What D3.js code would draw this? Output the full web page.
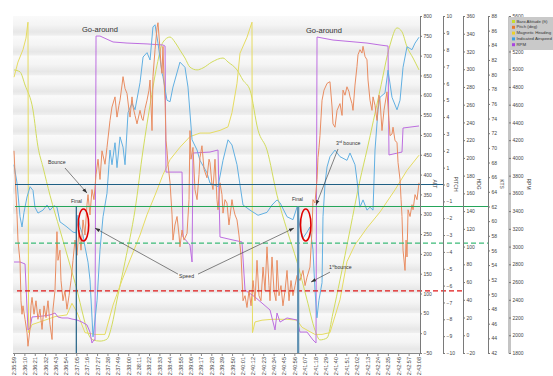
<!DOCTYPE html>
<html><head><meta charset="utf-8">
<script src="https://cdn.jsdelivr.net/npm/d3@7"></script>
<style>
html,body{margin:0;padding:0;background:#fff;}
svg{display:block;font-family:"Liberation Sans",Arial,sans-serif;}
</style></head><body>
<svg id="chart" width="553" height="376"></svg>
<script>
// Flight recording: two approaches with go-arounds, seconds from 2:35:59
const timeLabels = ["2:35:59","2:36:10","2:36:21","2:36:32","2:36:43","2:36:54","2:37:05","2:37:16","2:37:27","2:37:38",
  "2:37:49","2:38:00","2:38:11","2:38:22","2:38:33","2:38:44","2:38:55","2:39:06","2:39:17","2:39:28",
  "2:39:39","2:39:50","2:40:01","2:40:12","2:40:23","2:40:34","2:40:45","2:40:56","2:41:07","2:41:18",
  "2:41:29","2:41:40","2:41:51","2:42:02","2:42:13","2:42:24","2:42:35","2:42:46","2:42:57","2:43:08"];
const labelStepSec = 11;

const altTicks = [-50,0,50,100,150,200,250,300,350,400,450,500,550,600,650,700,750,800];
const pitchTicks = [-10,-9,-8,-7,-6,-5,-4,-3,-2,-1,0,1,2,3,4,5,6,7,8,9,10];
const hdgTicks = [-20,0,20,40,60,80,100,120,140,160,180,200,220,240,260,280,300,320,340,360];
const ktsTicks = [42,44,46,48,50,52,54,56,58,60,62,64,66,68,70,72,74,76,78,80,82,84,86,88];
const rpmTicks = [1800,2000,2200,2400,2600,2800,3000,3200,3400,3600,3800,4000,4200,4400,4600,4800,5000,5200,5600];

// [seconds, feet]
const altitudeFt = [[0,664],[6.4,659],[11.7,626],[20.1,563],[25.4,470],[30.7,419],[38.1,348],[48.7,260],[59.3,172],[66.7,109],[73.1,46],[78.4,0],[83.7,-17],[91.1,-20],[98.5,-15],[103.8,21],[109.1,84],[117.6,180],[128.2,311],[136.7,462],[144.1,575],[151.5,676],[157.8,734],[165.3,747],[170.5,734],[175.8,714],[181.1,694],[186.4,671],[193.9,664],[200.2,669],[209.7,684],[221.4,694],[226.7,684],[236.2,664],[242.6,638],[250,613],[258.5,512],[268,462],[278.6,348],[289.2,260],[299.8,180],[310.4,84],[318.8,8],[324.1,-17],[331.6,-12],[337.9,51],[345.3,134],[355.9,260],[366.5,386],[373.9,462],[387.7,613],[398.3,727],[405.7,770],[411,760],[416.3,722],[422.7,694],[429,664]];

// [seconds, degrees]
const headingDeg = [[0,291],[4.2,308],[9.5,322],[12.7,335],[14.8,353],[15.4,3],[19.1,12],[32.8,17],[43.4,21],[56.1,23],[61.4,36],[66.7,26],[75.2,3],[85.8,1],[96.4,1],[104.9,34],[114.4,62],[122.9,85],[133.5,113],[140.9,136],[149.4,158],[157.8,181],[165.3,198],[175.8,212],[186.4,224],[197,228],[207.6,228],[218.2,231],[226.7,235],[230.9,251],[236.2,284],[239.4,318],[246.8,336],[252.1,353],[252.6,3],[255.3,15],[262.7,17],[273.3,18],[289.2,18],[299.8,17],[305.1,9],[313.5,4],[318.8,1],[326.3,1],[334.7,3],[345.3,40],[352.7,83],[361.2,102],[373.9,121],[387.7,139],[403.6,164],[416.3,186],[429,203]];

// [seconds, knots]
const airspeedKts = [[0,67.7],[3.2,65.2],[6.4,60.6],[8.5,59.2],[10.6,61.2],[13.8,63.3],[17,64.7],[20.1,64.2],[22.2,61.9],[25.4,61.1],[30.7,61.5],[35,62.2],[38.1,61.5],[42.4,62.1],[45.5,61.9],[48.7,59.9],[53,59.5],[56.1,59.2],[62.5,58.5],[65.7,58.4],[67.7,60.8],[69.9,59.2],[73.1,58.1],[75.2,56.5],[78.4,54.4],[80.5,52],[82.6,46.9],[83.7,44.2],[85.8,46.5],[88,49.2],[91.1,56.1],[94.3,60.6],[98.5,63.8],[100.6,67.7],[101.7,69.7],[103.8,67.7],[107,70.7],[109.1,67.3],[112.3,71.5],[115.5,70.1],[117.6,67.7],[120.8,74.8],[125,76.1],[128.2,75.2],[133.5,78.9],[136.7,82.4],[140.9,83],[144.1,82],[147.2,86.5],[149.4,86.8],[152.5,84.3],[156.8,80.2],[157.8,79.7],[162.1,76.5],[165.3,76.3],[168.4,78.3],[175.8,81.7],[181.1,81],[184.3,78.3],[188.6,71.1],[193.9,69.7],[197,68.3],[204.4,66.6],[207.6,65.2],[216.1,64.7],[221.4,68.3],[226.7,71.1],[230.9,70.4],[236.2,67.7],[242.6,62.2],[250,61.5],[258.5,60.8],[268,61.2],[273.3,62.2],[278.6,62.9],[281.8,62.5],[289.2,60.6],[295.5,60.2],[299.8,61.9],[302.9,59.2],[306.1,57.7],[310.4,58.5],[313.5,59.2],[316.7,56.1],[318.8,50.6],[320.9,46.8],[323,49.2],[326.3,51.6],[327.3,60.6],[329.5,65.2],[331.6,67.4],[334.7,68.8],[340,69.7],[345.3,68.8],[352.7,68.3],[355.9,69.3],[361.2,67.7],[363.3,65.6],[366.5,61.9],[369.7,62.9],[373.9,61.5],[377.1,61.9],[380.3,61.5],[382.4,69.7],[385.6,75.2],[387.7,76.9],[393,77.5],[396.2,80.6],[400.4,76.9],[405.7,75.2],[408.9,76.5],[412.1,81],[416.3,83.8],[421.6,83.4],[424.8,84.3],[429,85.1]];

// [seconds, degrees]
const pitchDeg = [[0,2.0],[1.1,0.6],[3.2,-1.8],[4.2,-3.3],[6.4,-4.6],[7.4,-6.9],[8.5,-7.7],[9.5,-7.2],[11.7,-8.0],[13.8,-8.8],[14.8,-9.6],[16.9,-8.6],[18,-7.2],[19.1,-6.7],[21.2,-7.7],[23.3,-6.9],[25.4,-8.0],[27.5,-7.4],[29.7,-8.6],[31.8,-7.2],[33.9,-7.9],[36,-6.9],[38.1,-8.3],[40.3,-9.2],[41.3,-7.4],[43.4,-6.3],[45.5,-2.8],[46.6,-4.5],[48.7,-3.9],[49.8,-5.7],[51.9,-6.9],[54,-6.3],[56.1,-7.4],[58.3,-6.6],[60.4,-5.7],[62.5,-4.5],[64.6,-3.3],[66.7,-4.2],[68.9,-2.7],[71,-3.9],[73.1,-2.1],[75.2,-3.0],[77.3,-1.2],[78.4,-0.6],[80.5,-1.8],[82.6,-0.3],[84.7,-0.9],
 [86.9,0.6],[89,1.5],[91.1,0.3],[93.2,2.0],[96.4,1.2],[98.5,2.2],[101.7,3.8],[103.8,4.6],[107,5.2],[109.1,4.0],[111.2,4.7],[112.3,5.0],[114.4,5.9],[115.5,6.4],[117.6,5.7],[119.7,5.4],[121.8,4.4],[122.9,4.0],[125,5.2],[126.1,4.6],[128.2,4.1],[130.3,3.6],[133.5,4.4],[135.6,3.9],[136.7,3.8],[138.8,4.5],[140.9,5.0],[143,5.6],[144.1,6.2],[146.2,3.2],[147.2,6.4],[149.4,8.0],[151.5,9.3],[152.5,9.6],[154.7,8.0],[155.7,7.1],[156.8,6.6],[157.8,8.2],[158.9,6.2],[160,5.0],
 [161,2.6],[162.1,2.0],[163.1,1.2],[165.3,0.1],[167.4,-1.8],[168.4,-3.3],[170.5,-2.4],[172.7,-1.9],[174.8,-3.0],[175.8,-3.7],[178,-2.7],[180.1,-3.3],[183.3,-2.9],[185.4,-0.9],[186.4,3.2],[187.5,1.5],[189.6,2.2],[191.7,-0.3],[193.9,-0.9],[196,0.6],[197,1.6],[199.1,2.3],[201.3,0.9],[204.4,0.4],[206.6,1.5],[207.6,1.3],[209.7,0.0],[210.8,-0.3],[212.9,1.5],[215,-0.9],[216.1,-1.5],[218.2,0.1],[220.3,-0.6],[221.4,-1.7],[223.5,-0.9],[225.6,-1.1],[227.7,-2.4],[228.8,-1.9],[230.9,-0.9],[232,-1.3],[234.1,-1.8],[236.2,-2.1],[238.3,-3.0],[240.5,-4.2],
 [242.6,-6.9],[244.7,-6.6],[246.8,-7.3],[248.9,-6.3],[251.1,-7.2],[253.2,-5.7],[255.3,-6.9],[257.4,-4.5],[259.5,-6.6],[261.6,-6.9],[263.8,-4.9],[265.9,-6.3],[268,-3.7],[270.1,-6.0],[271.2,-6.9],[273.3,-4.3],[275.4,-6.3],[277.5,-6.9],[278.6,-4.5],[280.7,-6.6],[282.8,-6.0],[284.9,-7.2],[287.1,-6.3],[289.2,-5.1],[291.3,-6.9],[293.4,-5.7],[295.5,-6.6],[297.7,-6.0],[299.8,-5.4],[302.9,-5.7],[306.1,-5.1],[308.3,-6.0],[310.4,-5.5],[313.5,-4.9],[315.7,-2.7],[316.7,-0.9],[318.8,-1.1],[321,0.3],[322,1.6],[323.1,2.2],
 [324.1,2.9],[326.3,5.0],[328.4,5.6],[331.6,6.0],[334.7,6.1],[336.9,4.6],[337.9,3.6],[340,3.4],[342.2,4.4],[345.3,4.8],[347.5,4.1],[348.5,5.6],[350.6,5.3],[352.7,5.8],[354.9,5.5],[355.9,5.2],[358,4.8],[359.1,4.4],[361.2,5.9],[363.3,7.0],[364.4,7.7],[366.5,8.0],[368.6,7.8],[369.7,8.2],[371.8,7.6],[373.9,7.4],[375,6.2],[377.1,5.0],[379.2,4.4],[380.3,5.2],[382.4,4.7],[384.5,3.8],[386.6,5.3],[387.7,5.0],[389.8,3.2],[391.9,4.4],[395.1,5.5],[397.2,3.8],[398.3,2.9],[400.4,3.0],[401.5,3.4],[403.6,2.6],[405.7,2.5],
 [406.8,1.3],[408.9,0.3],[410,-0.9],[411,-1.9],[412.1,-3.9],[414.2,-5.1],[415.3,-3.3],[416.3,-4.3],[417.4,-1.5],[419.5,-1.9],[421.6,-1.2],[422.7,-1.5],[424.8,-0.6],[426.9,-0.9],[429,0.1]];

// [seconds, rpm]
const engineRpm = [[0,2826],[6.4,2826],[11.7,2804],[14.8,2060],[17,2082],[19.1,2206],[30.7,2217],[38.1,2229],[43.4,2251],[46.6,2206],[50.8,2195],[57.2,2195],[61.4,2183],[66.7,2172],[72,2149],[77.3,2116],[80.5,2036],[82.6,1913],[84.7,1947],[85.8,1947],[86.9,5374],[91.1,5374],[104.9,5307],[119.7,5295],[140.9,5285],[157.8,5273],[160,5261],[161,3840],[178,3840],[179,3108],[186.4,3018],[188.6,2826],[189.6,4055],[207.6,4066],[216.1,4089],[218.2,3108],[232,3074],[241.5,3052],[244.7,2510],[255.3,2431],[271.2,2285],[276.5,2060],[278.6,2251],[281.8,2149],[289.2,2195],[299.8,2172],[302.9,2036],[310.4,2036],[316.7,1947],[319.9,1913],[321,5363],[337.9,5329],[373.9,5295],[387.7,5273],[396.2,5261],[397.2,4033],[411,4066],[412.1,4337],[429,4360]];

const legendItems = ["Baro Altitude (ft)","Pitch (deg)","Magnetic Heading","Indicated Airspeed","RPM"];

// Reference levels and event markers
const pitchLevel = 0;
const speedFinal = 62, speedMin = 57;
const headingLevel = 50;
const finalTimes = [66, 301];
const circledTimes = [73.6, 309];

const svg = d3.select("#chart");
const plotL = 13, plotR = 420, plotT = 16, plotB = 353;

const x = d3.scaleLinear().domain([0, 429]).range([14, 419]);
const yAlt = d3.scaleLinear().domain([-50, 800]).range([plotB, plotT]);
const yPitch = d3.scaleLinear().domain([-10, 10]).range([plotB, plotT]);
const yHdg = d3.scaleLinear().domain([-20, 360]).range([plotB, plotT]);
const yKts = d3.scaleLinear().domain([42, 88]).range([plotB, plotT]);
const yRpm = d3.scaleLinear().domain([1800, 5600]).range([plotB, plotT]);

const defs = svg.append("defs");
const grad = defs.append("linearGradient").attr("id", "bandGrad")
  .attr("x1", 0).attr("y1", 0).attr("x2", 0).attr("y2", 1);
[[0, "#fafafa"], [0.45, "#f4f4f4"], [0.8, "#e7e7e7"], [1, "#f0f0f0"]]
  .forEach(([o, c]) => grad.append("stop").attr("offset", o).attr("stop-color", c));
defs.append("clipPath").attr("id", "plotClip").append("rect")
  .attr("x", plotL).attr("y", plotT).attr("width", plotR - plotL).attr("height", plotB - plotT);
const marker = defs.append("marker").attr("id", "arrow").attr("viewBox", "0 0 10 10")
  .attr("refX", 10).attr("refY", 5).attr("markerWidth", 5).attr("markerHeight", 5)
  .attr("markerUnits", "userSpaceOnUse").attr("orient", "auto");
marker.append("path").attr("d", "M0,1.5L10,5L0,8.5z").attr("fill", "#333");

// banded backdrop, one band per altitude step
svg.append("g").selectAll("rect").data(altTicks.slice(0, -1)).join("rect")
  .attr("x", plotL).attr("width", plotR - plotL)
  .attr("y", d => yAlt(d + 50)).attr("height", d => yAlt(d) - yAlt(d + 50))
  .attr("fill", "url(#bandGrad)");

// series
const series = [
  {data: altitudeFt, y: yAlt, color: "#d2dc5e", curve: d3.curveMonotoneX},
  {data: headingDeg, y: yHdg, color: "#e6dc62", curve: d3.curveLinear},
  {data: engineRpm, y: yRpm, color: "#bd6ee0", curve: d3.curveLinear},
  {data: airspeedKts, y: yKts, color: "#62b0e2", curve: d3.curveLinear},
  {data: pitchDeg, y: yPitch, color: "#e98d62", curve: d3.curveLinear}
];
const gSeries = svg.append("g").attr("clip-path", "url(#plotClip)");
series.forEach(s => {
  gSeries.append("path")
    .attr("d", d3.line().x(d => x(d[0])).y(d => s.y(d[1])).curve(s.curve)(s.data))
    .attr("fill", "none").attr("stroke", s.color).attr("stroke-width", 1)
    .attr("stroke-linejoin", "round");
});

// reference lines
const gRef = svg.append("g");
const axisX = {alt: 420, pitch: 443, hdg: 463, kts: 488, rpm: 509};
gRef.append("line").attr("x1", 15).attr("x2", axisX.pitch)
  .attr("y1", yPitch(pitchLevel)).attr("y2", yPitch(pitchLevel))
  .attr("stroke", "#1f5f84").attr("stroke-width", 1.2);
gRef.append("line").attr("x1", 15).attr("x2", axisX.kts)
  .attr("y1", yKts(speedFinal)).attr("y2", yKts(speedFinal))
  .attr("stroke", "#25a55a").attr("stroke-width", 1.2);
gRef.append("line").attr("x1", 15).attr("x2", axisX.kts)
  .attr("y1", yKts(speedMin)).attr("y2", yKts(speedMin))
  .attr("stroke", "#3dbb78").attr("stroke-width", 1.4).attr("stroke-dasharray", "5,3");
gRef.append("line").attr("x1", 17).attr("x2", axisX.hdg)
  .attr("y1", yHdg(headingLevel)).attr("y2", yHdg(headingLevel))
  .attr("stroke", "#e01818").attr("stroke-width", 1.4).attr("stroke-dasharray", "5,3");
gRef.append("line").attr("x1", x(finalTimes[0])).attr("x2", x(finalTimes[0]))
  .attr("y1", yKts(speedFinal)).attr("y2", plotB)
  .attr("stroke", "#1f5f84").attr("stroke-width", 1.2);
gRef.append("line").attr("x1", x(finalTimes[1])).attr("x2", x(finalTimes[1]))
  .attr("y1", yKts(speedFinal)).attr("y2", plotB)
  .attr("stroke", "#5e90b2").attr("stroke-width", 2.2);
circledTimes.forEach(t => {
  gRef.append("ellipse").attr("cx", x(t)).attr("cy", yAlt(273))
    .attr("rx", 5.2).attr("ry", 16).attr("fill", "none")
    .attr("stroke", "#e00000").attr("stroke-width", 1.6);
});

// annotations
const gAnn = svg.append("g").attr("fill", "#333");
function note(t, alt, txt, size, sup) {
  const el = gAnn.append("text").attr("x", x(t)).attr("y", yAlt(alt)).attr("font-size", size);
  if (sup) {
    el.append("tspan").text(txt[0]);
    el.append("tspan").attr("font-size", size * 0.65).attr("dy", -size * 0.35).text(sup);
    el.append("tspan").attr("dy", size * 0.35).text(txt[1]);
  } else el.text(txt);
}
note(72, 760, "Go-around", 7.5);
note(309.3, 757, "Go-around", 7.5);
note(36, 427, "Bounce", 5.2);
note(60.4, 328, "Final", 5);
note(294.5, 333, "Final", 5);
note(174.8, 139, "Speed", 5.2);
note(341.1, 475, ["3", " bounce"], 5.2, "rd");
note(333.7, 162, ["1", "bounce"], 5.2, "st");
const arrows = [
  [54, 416.6, 77.3, 353.5],
  [173.7, 149, 85.8, 265],
  [194.9, 149, 296.6, 265],
  [343.2, 464.5, 319.9, 323],
  [334.7, 154, 314.6, 129]
];
svg.append("g").selectAll("line").data(arrows).join("line")
  .attr("x1", d => x(d[0])).attr("y1", d => yAlt(d[1]))
  .attr("x2", d => x(d[2])).attr("y2", d => yAlt(d[3]))
  .attr("stroke", "#333").attr("stroke-width", 0.6).attr("marker-end", "url(#arrow)");

// time axis
const gx = svg.append("g").attr("transform", `translate(0,${plotB})`)
  .call(d3.axisBottom(x).tickValues(timeLabels.map((_, i) => i * labelStepSec))
    .tickFormat((d, i) => timeLabels[i]).tickSize(3).tickPadding(2));
gx.select(".domain").attr("stroke", "#888").attr("d", `M${plotL},0.5H${plotR}`);
gx.selectAll(".tick line").attr("stroke", "#888");
gx.selectAll("text").attr("font-size", 5.5).attr("fill", "#444")
  .attr("transform", "rotate(-90)").attr("text-anchor", "end")
  .attr("x", -4).attr("y", 0).attr("dy", "0.35em");

// value axes
const axes = [
  {scale: yAlt, ticks: altTicks, pos: axisX.alt, title: "ALT", tx: 433},
  {scale: yPitch, ticks: pitchTicks, pos: axisX.pitch, title: "PITCH", tx: 454},
  {scale: yHdg, ticks: hdgTicks, pos: axisX.hdg, title: "HDG", tx: 477},
  {scale: yKts, ticks: ktsTicks, pos: axisX.kts, title: "KTS", tx: 500},
  {scale: yRpm, ticks: rpmTicks, pos: axisX.rpm, title: "RPM", tx: 527}
];
axes.forEach((a, i) => {
  const g = svg.append("g").attr("transform", `translate(${a.pos},0)`)
    .call(d3.axisRight(a.scale).tickValues(a.ticks).tickFormat(d3.format("d"))
      .tickSize(2).tickPadding(1.5).tickSizeOuter(0));
  g.select(".domain").attr("stroke", i === 4 ? "#c4c4c4" : "#7a7a7a").attr("stroke-width", i === 4 ? 3 : 1);
  g.selectAll(".tick line").attr("stroke", "#7a7a7a");
  g.selectAll("text").attr("font-size", 5).attr("fill", "#444");
  svg.append("text").attr("transform", `translate(${a.tx},${184}) rotate(90)`)
    .attr("text-anchor", "middle").attr("font-size", 5).attr("fill", "#444").text(a.title);
});

// legend
const legendColors = ["#c8dc2c", "#e8782e", "#ecd028", "#3a9fe0", "#a844e0"];
const gl = svg.append("g").attr("transform", "translate(509,17)");
gl.append("rect").attr("width", 46).attr("height", 33).attr("fill", "#c9c9c9");
legendItems.forEach((d, i) => {
  gl.append("rect").attr("x", 3).attr("y", 3 + i * 5.8).attr("width", 3).attr("height", 3).attr("fill", legendColors[i]);
  gl.append("text").attr("x", 7.5).attr("y", 5.6 + i * 5.8).attr("font-size", 4.3).attr("fill", "#333").text(d);
});
</script>
</body></html>
